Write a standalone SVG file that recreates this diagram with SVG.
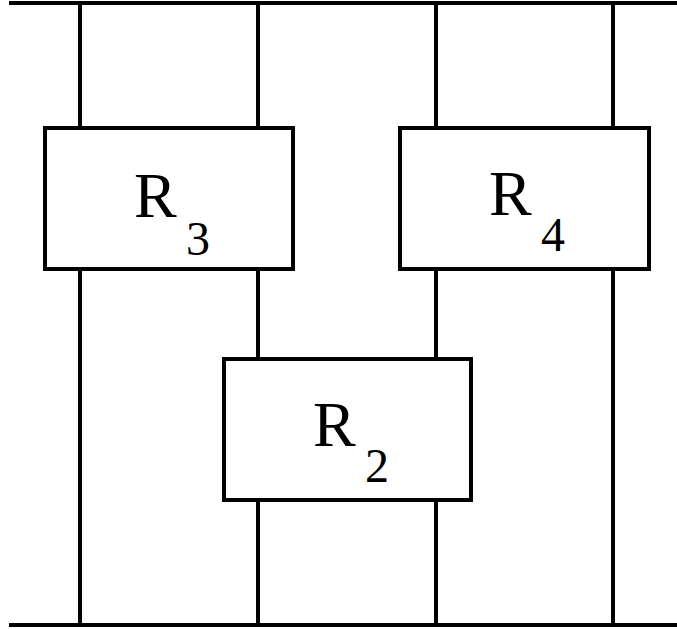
<svg xmlns="http://www.w3.org/2000/svg" width="677" height="629" viewBox="0 0 677 629">
<style>
.w{stroke:#000;stroke-width:4;fill:none}
.b{stroke:#000;stroke-width:4;fill:#fff}
</style>
<rect width="677" height="629" fill="#fff"/>
<g id="connectors">
<line class="w" x1="9" y1="3" x2="677" y2="3"/>
<line class="w" x1="9" y1="625" x2="677" y2="625"/>
<line class="w" x1="80" y1="3" x2="80" y2="625"/>
<line class="w" x1="258" y1="3" x2="258" y2="625"/>
<line class="w" x1="436" y1="3" x2="436" y2="625"/>
<line class="w" x1="613" y1="3" x2="613" y2="625"/>
</g>
<g id="R3" font-family="Times New Roman, Times, Liberation Serif, DejaVu Serif, serif" fill="#000">
<rect class="b" x="45" y="128" width="248" height="141"/>
<text x="134" y="217" font-size="64">R</text>
<text x="186" y="255" font-size="48">3</text>
</g>
<g id="R4" font-family="Times New Roman, Times, Liberation Serif, DejaVu Serif, serif" fill="#000">
<rect class="b" x="400" y="128" width="249" height="141"/>
<text x="489" y="215" font-size="64">R</text>
<text x="541" y="251" font-size="48">4</text>
</g>
<g id="R2" font-family="Times New Roman, Times, Liberation Serif, DejaVu Serif, serif" fill="#000">
<rect class="b" x="224" y="359" width="247" height="141"/>
<text x="313" y="446" font-size="64">R</text>
<text x="365" y="482" font-size="48">2</text>
</g>
</svg>
